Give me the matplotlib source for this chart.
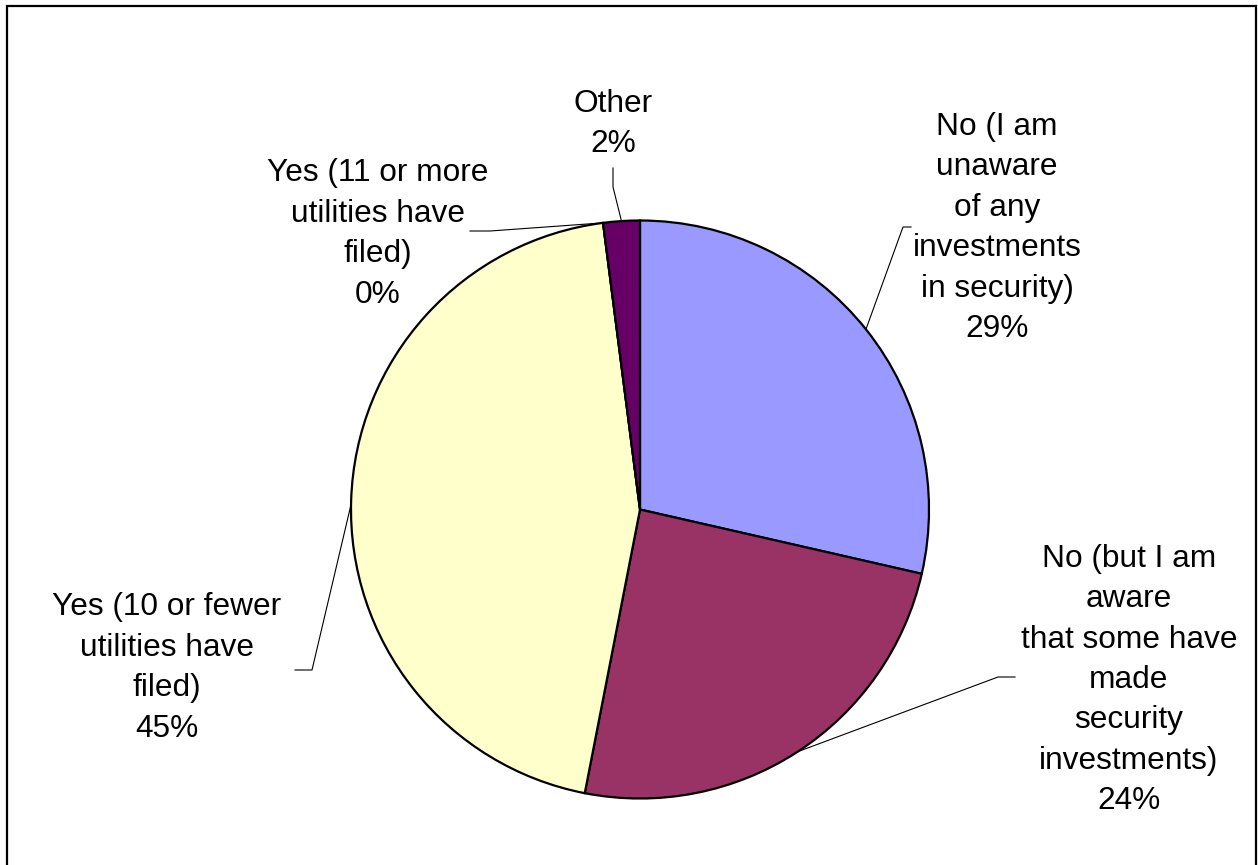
import matplotlib.pyplot as plt
from matplotlib.patches import Rectangle
import numpy as np

plt.rcParams['font.family'] = ['Liberation Sans', 'DejaVu Sans']

# survey answers (counts read as shares of the pie)
labels = ['No (I am\nunaware\nof any\ninvestments\nin security)',
          'No (but I am\naware\nthat some have\nmade\nsecurity\ninvestments)',
          'Yes (10 or fewer\nutilities have\nfiled)',
          'Yes (11 or more\nutilities have\nfiled)',
          'Other']
counts = [14, 12, 22, 0, 1]
colors = ['#9999FF', '#993366', '#FFFFCC', '#FFFFFF', '#660066']

W, H = 1258, 865
def P(x, y):
    # pixel coords (top-left origin) -> data coords
    return x, H - y

fig = plt.figure(figsize=(W / 100, H / 100), dpi=100)
ax = fig.add_axes([0, 0, 1, 1])

cx, cy = P(640, 509.5)
R = 289
wedges, _ = ax.pie(counts, colors=colors, startangle=90, counterclock=False,
                   center=(cx, cy), radius=R,
                   wedgeprops=dict(edgecolor='black', linewidth=1.6))
ax.set_xlim(0, W)
ax.set_ylim(0, H)
ax.set_aspect('equal')
ax.axis('off')

total = sum(counts)
pcts = [round(100 * c / total) for c in counts]

# label layout: text centre, elbow, end of leader (pixels), anchor angle
text_pos = [(997, 228), (1129, 680), (167, 668), (378, 234), (613, 124)]
elbows = [(903, 227), (998, 677), (312, 670), (490, 231), (613, 187)]
ends = [(911, 227), (1015, 677), (295, 670), (470, 231), (613, 168)]
angle_override = {2: 179.0}

for i, w in enumerate(wedges):
    ang = angle_override.get(i, (w.theta1 + w.theta2) / 2)
    a = np.deg2rad(ang)
    ax_, ay_ = cx + R * np.cos(a), cy + R * np.sin(a)
    ex, ey = P(*elbows[i])
    fx, fy = P(*ends[i])
    ax.plot([ax_, ex, fx], [ay_, ey, fy], color='black', lw=0.8)
    tx, ty = P(*text_pos[i])
    ax.text(tx, ty, f'{labels[i]}\n{pcts[i]}%', ha='center', va='center',
            fontsize=22.8, linespacing=1.45, color='black')

ax.add_patch(Rectangle(P(7, H + 10), 1249, H + 4, fill=False,
                       edgecolor='black', linewidth=1.6, clip_on=False))

fig.savefig('out.png', dpi=100)
